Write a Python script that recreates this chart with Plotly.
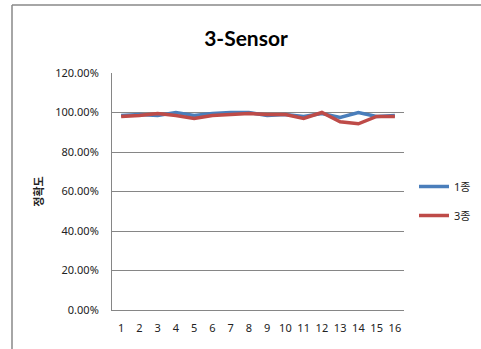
import plotly.graph_objects as go

categories = list(range(1, 17))
series_1 = [98.5, 99.0, 98.5, 100.0, 98.5, 99.5, 100.0, 100.0, 98.5, 99.0, 98.0, 99.5, 97.5, 100.0, 98.0, 98.5]
series_3 = [98.0, 98.5, 99.5, 98.5, 97.0, 98.5, 99.0, 99.5, 99.0, 99.0, 97.0, 100.0, 95.3, 94.3, 98.0, 98.0]
ytick_vals = [0, 20, 40, 60, 80, 100, 120]
ytick_text = ["0.00%", "20.00%", "40.00%", "60.00%", "80.00%", "100.00%", "120.00%"]

fig = go.Figure()
fig.add_trace(go.Scatter(x=categories, y=series_1, mode="lines", name="1종",
                         line=dict(color="#4A7EBB", width=3.5), legendgroup="a"))
fig.add_trace(go.Scatter(x=categories, y=series_3, mode="lines", name="3종",
                         line=dict(color="#BE4B48", width=3.5), legendgroup="b"))

W, H = 481, 349
L, R, T, B = 112, 77, 73, 39
pw, ph = W - L - R, H - T - B

def px(x):
    return (x - L) / pw

def py(y):
    return (H - B - y) / ph

fig.update_layout(
    width=W, height=H,
    margin=dict(l=L, r=R, t=T, b=B, autoexpand=False),
    paper_bgcolor="white", plot_bgcolor="white",
    title=dict(text="<b>3-Sensor</b>", x=246 / W, xanchor="center", y=1 - 39 / H, yanchor="middle",
               font=dict(family="Lato, Liberation Sans, sans-serif", size=21, color="black")),
    xaxis=dict(range=[0.5, 16.5], tickvals=categories, ticktext=[str(c) for c in categories],
               showgrid=False, zeroline=False, showline=True, linecolor="#868686", linewidth=1,
               ticks="", tickfont=dict(family="Noto Sans, DejaVu Sans", size=11, color="#222"),
               ticklabelstandoff=8),
    yaxis=dict(range=[0, 120], tickvals=ytick_vals, ticktext=ytick_text,
               showgrid=True, gridcolor="#868686", gridwidth=1, zeroline=False,
               showline=True, linecolor="#868686", linewidth=1, ticks="",
               tickfont=dict(family="Noto Sans, DejaVu Sans", size=11, color="#222"),
               ticklabelstandoff=10,
               title=dict(text="<b>정확도</b>", font=dict(family="Noto Sans CJK KR", size=11, color="#222"),
                          standoff=9)),
    legend=dict(x=px(414), y=py(201), yanchor="middle", xanchor="left",
                font=dict(family="Noto Sans, Noto Sans CJK KR", size=11, color="#222"),
                tracegroupgap=10, bgcolor="rgba(0,0,0,0)"),
    shapes=[
        dict(type="line", xref="paper", yref="paper", x0=px(12), x1=px(12), y0=py(5), y1=py(360),
             line=dict(color="#888888", width=1.5)),
        dict(type="line", xref="paper", yref="paper", x0=px(12), x1=px(490), y0=py(5), y1=py(5),
             line=dict(color="#888888", width=1.5)),
    ],
)

fig.write_html("out.html", config={"displayModeBar": False},
               post_script="document.body.style.margin='0';document.body.style.overflow='hidden';")
